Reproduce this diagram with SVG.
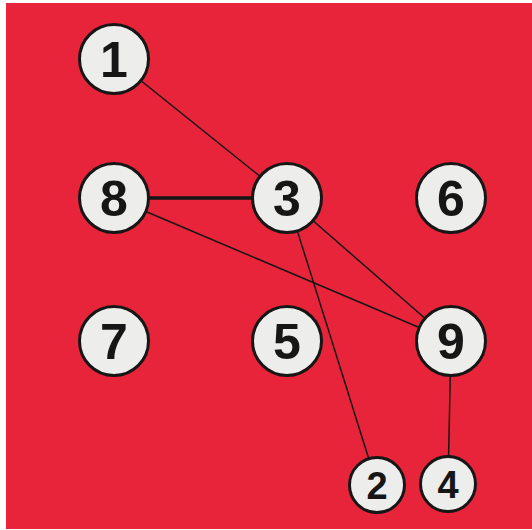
<svg xmlns="http://www.w3.org/2000/svg" width="532" height="530" viewBox="0 0 532 530">
<style>
.n circle{fill:#EDEDEB;stroke:#161616;stroke-width:3}
.n text{font-family:"Liberation Sans",Arial,sans-serif;font-weight:bold;fill:#161616;text-anchor:middle}
.big text{font-size:50px}
.small text{font-size:38px}
.e line{stroke:#161616;stroke-width:1.5}
</style>
<rect x="0" y="0" width="532" height="530" fill="#ffffff"/>
<rect x="6" y="3" width="526" height="526" fill="#E8243A"/>
<g id="edges" class="e">
<line x1="114" y1="59" x2="287" y2="198"/>
<line x1="114" y1="198" x2="287" y2="198" style="stroke-width:3.5"/>
<line x1="114" y1="198" x2="451" y2="341"/>
<line x1="287" y1="198" x2="451" y2="341"/>
<line x1="287" y1="198" x2="377" y2="485"/>
<line x1="451" y1="341" x2="448" y2="484"/>
</g>
<g id="node1" class="n big"><circle cx="114" cy="59" r="34.5"/><text x="114" y="77">1</text></g>
<g id="node8" class="n big"><circle cx="114" cy="198" r="34.5"/><text x="114" y="216">8</text></g>
<g id="node3" class="n big"><circle cx="287" cy="198" r="34.5"/><text x="287" y="216">3</text></g>
<g id="node6" class="n big"><circle cx="451" cy="198" r="34.5"/><text x="451" y="216">6</text></g>
<g id="node7" class="n big"><circle cx="114" cy="341" r="34.5"/><text x="114" y="359">7</text></g>
<g id="node5" class="n big"><circle cx="287" cy="341" r="34.5"/><text x="287" y="359">5</text></g>
<g id="node9" class="n big"><circle cx="451" cy="341" r="34.5"/><text x="451" y="359">9</text></g>
<g id="node2" class="n small"><circle cx="377" cy="485" r="27.5"/><text x="377" y="498.5">2</text></g>
<g id="node4" class="n small"><circle cx="448" cy="484" r="27.5"/><text x="448" y="497.5">4</text></g>
</svg>
